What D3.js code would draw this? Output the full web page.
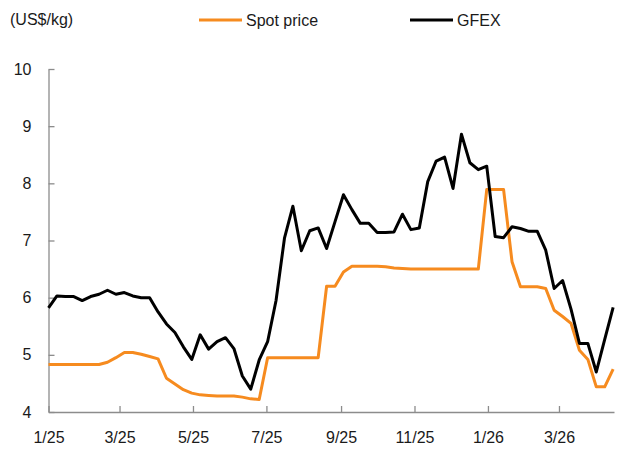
<!DOCTYPE html>
<html>
<head>
<meta charset="utf-8">
<script src="https://cdn.jsdelivr.net/npm/d3@7"></script>
<style>
  html, body { margin: 0; padding: 0; background: #fff; }
  svg { display: block; font-family: "Liberation Sans", Arial, sans-serif; }
</style>
</head>
<body>
<svg id="chart" width="630" height="454"></svg>
<script>
// ---- Data ----
const dates = [
  "2025-01-01","2025-01-08","2025-01-15","2025-01-22","2025-01-29",
  "2025-02-05","2025-02-12","2025-02-19","2025-02-26",
  "2025-03-05","2025-03-12","2025-03-19","2025-03-26",
  "2025-04-02","2025-04-09","2025-04-16","2025-04-23","2025-04-30",
  "2025-05-07","2025-05-14","2025-05-21","2025-05-28",
  "2025-06-04","2025-06-11","2025-06-18","2025-06-25",
  "2025-07-02","2025-07-09","2025-07-16","2025-07-23","2025-07-30",
  "2025-08-06","2025-08-13","2025-08-20","2025-08-27",
  "2025-09-03","2025-09-10","2025-09-17","2025-09-24",
  "2025-10-01","2025-10-08","2025-10-15","2025-10-22","2025-10-29",
  "2025-11-05","2025-11-12","2025-11-19","2025-11-26",
  "2025-12-03","2025-12-10","2025-12-17","2025-12-24","2025-12-31",
  "2026-01-07","2026-01-14","2026-01-21","2026-01-28",
  "2026-02-04","2026-02-11","2026-02-18","2026-02-25",
  "2026-03-04","2026-03-11","2026-03-18","2026-03-25",
  "2026-04-01","2026-04-08","2026-04-15"
];
const spotPrice = [
  4.83,4.83,4.83,4.83,4.83,4.83,4.83,4.87,4.95,5.04,5.04,5.01,4.97,
  4.93,4.59,4.49,4.39,4.33,4.30,4.29,4.28,4.28,4.28,4.26,4.23,4.22,
  4.95,4.95,4.95,4.95,4.95,4.95,4.95,6.20,6.20,6.45,6.55,6.55,6.55,
  6.55,6.54,6.52,6.51,6.50,6.50,6.50,6.50,6.50,6.50,6.50,6.50,6.50,
  7.89,7.89,7.89,6.63,6.19,6.19,6.19,6.16,5.78,5.67,5.55,5.08,4.92,
  4.44,4.44,4.75
];
const gfex = [
  5.82,6.03,6.02,6.02,5.95,6.02,6.06,6.13,6.06,6.09,6.03,6.00,6.00,
  5.75,5.54,5.39,5.14,4.92,5.35,5.10,5.23,5.30,5.11,4.63,4.40,4.91,
  5.23,5.95,7.04,7.60,6.82,7.17,7.22,6.86,7.33,7.80,7.54,7.30,7.30,
  7.14,7.14,7.15,7.46,7.19,7.22,8.03,8.39,8.46,7.91,8.86,8.36,8.24,
  8.30,7.07,7.05,7.24,7.21,7.16,7.16,6.83,6.16,6.30,5.80,5.20,5.20,
  4.70,5.27,5.83
];
const yTicks = [4, 5, 6, 7, 8, 9, 10];
const xTickDates = ["2025-01-01","2025-03-01","2025-05-01","2025-07-01","2025-09-01","2025-11-01","2026-01-01","2026-03-01"];
const xTickLabels = ["1/25","3/25","5/25","7/25","9/25","11/25","1/26","3/26"];
const seriesNames = ["Spot price", "GFEX"];
const seriesColors = ["#F68B1F", "#000000"];
const unitLabel = "(US$/kg)";

// ---- Layout ----
const svg = d3.select("#chart");
const plotLeft = 48.5, plotRight = 614, plotTop = 69, plotBottom = 412;
const parse = d3.utcParse("%Y-%m-%d");
const xDates = dates.map(parse);

const x = d3.scaleUtc()
  .domain([parse("2025-01-01"), new Date(Date.UTC(2026, 3, 15, 17))])
  .range([plotLeft, plotRight]);
const y = d3.scaleLinear().domain([4, 10]).range([plotBottom, plotTop]);

const axisColor = "#8c8c8c";
const textColor = "#1a1a1a";

// Y axis
const yAxis = svg.append("g")
  .attr("transform", `translate(${plotLeft},0)`)
  .call(d3.axisLeft(y).tickValues(yTicks).tickFormat(d3.format("d"))
    .tickSizeInner(-6).tickSizeOuter(0).tickPadding(17));
// X axis
const tickMap = new Map(xTickDates.map((d, i) => [+parse(d), xTickLabels[i]]));
const xAxis = svg.append("g")
  .attr("transform", `translate(0,${plotBottom})`)
  .call(d3.axisBottom(x).tickValues(xTickDates.map(parse))
    .tickFormat(d => tickMap.get(+d))
    .tickSizeInner(-6).tickSizeOuter(0).tickPadding(20));

[yAxis, xAxis].forEach(g => {
  g.select(".domain").attr("stroke", axisColor).attr("stroke-width", 1.3);
  g.selectAll(".tick line").attr("stroke", axisColor).attr("stroke-width", 1.3);
  g.selectAll(".tick text").attr("fill", textColor)
    .style("font-size", "16px").style("font-family", "'Liberation Sans', Arial, sans-serif");
});

// Lines
const line = d3.line().x((d, i) => x(xDates[i])).y(d => y(d));
[spotPrice, gfex].forEach((s, k) => {
  svg.append("path")
    .datum(s)
    .attr("fill", "none")
    .attr("stroke", seriesColors[k])
    .attr("stroke-width", 3)
    .attr("stroke-linejoin", "round")
    .attr("d", line);
});

// Unit label
svg.append("text")
  .attr("x", 10).attr("y", 25)
  .attr("fill", textColor)
  .style("font-size", "16px")
  .text(unitLabel);

// Legend
const legendX = [199, 410];
seriesNames.forEach((name, k) => {
  const g = svg.append("g").attr("transform", `translate(${legendX[k]},20)`);
  g.append("line").attr("x1", 0).attr("x2", 43).attr("y1", 0).attr("y2", 0)
    .attr("stroke", seriesColors[k]).attr("stroke-width", 3);
  g.append("text").attr("x", 47).attr("y", 6)
    .attr("fill", textColor).style("font-size", "16px").text(name);
});
</script>
</body>
</html>
